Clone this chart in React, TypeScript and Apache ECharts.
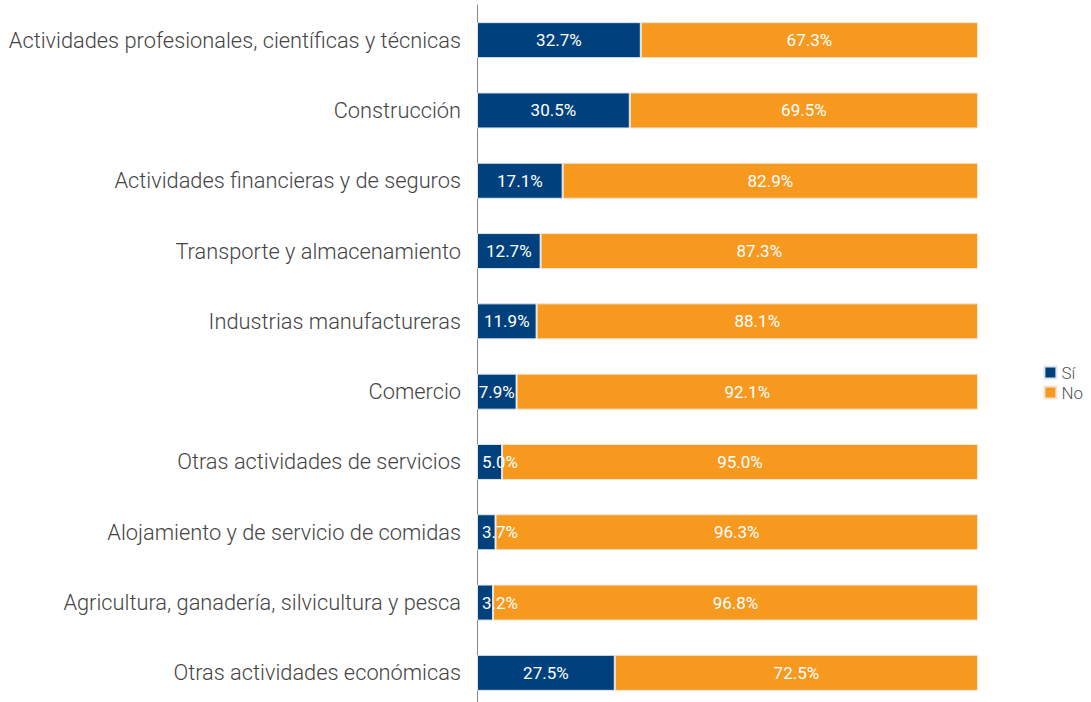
import React, { useEffect, useRef } from "react";
import * as echarts from "echarts";

const categories = [
  "Actividades profesionales, científicas y técnicas",
  "Construcción",
  "Actividades financieras y de seguros",
  "Transporte y almacenamiento",
  "Industrias manufactureras",
  "Comercio",
  "Otras actividades de servicios",
  "Alojamiento y de servicio de comidas",
  "Agricultura, ganadería, silvicultura y pesca",
  "Otras actividades económicas",
];
const siValues = [32.7, 30.5, 17.1, 12.7, 11.9, 7.9, 5.0, 3.7, 3.2, 27.5];
const noValues = [67.3, 69.5, 82.9, 87.3, 88.1, 92.1, 95.0, 96.3, 96.8, 72.5];
const seriesNames = ["Sí", "No"];

export default function App() {
  const ref = useRef<HTMLDivElement>(null);
  useEffect(() => {
    const chart = echarts.init(ref.current!, null, { renderer: "svg" });
    const font = "Roboto, 'Noto Sans', sans-serif";
    const labelBase = {
      show: true,
      color: "#ffffff",
      fontSize: 17,
      fontWeight: "normal",
      fontFamily: font,
      formatter: (p: any) => p.value.toFixed(1) + "%",
    };
    chart.setOption({
      animation: false,
      backgroundColor: "#ffffff",
      textStyle: { fontFamily: font },
      grid: {
        left: 477,
        width: 501,
        top: 5,
        height: 703,
        containLabel: false,
        outerBoundsMode: "none",
      },
      legend: {
        orient: "vertical",
        right: 8,
        top: 364,
        padding: 0,
        itemWidth: 12,
        itemHeight: 12,
        itemGap: 3,
        icon: "rect",
        textStyle: { color: "#555", fontSize: 17, fontFamily: font, fontWeight: 300 },
        data: seriesNames,
      },
      xAxis: { type: "value", min: 0, max: 100, show: false },
      yAxis: {
        type: "category",
        inverse: true,
        data: categories,
        axisLine: { show: true, lineStyle: { color: "#888", width: 1 } },
        axisTick: { show: false },
        axisLabel: {
          color: "#444",
          fontSize: 21.8,
          fontWeight: 300,
          fontFamily: font,
          margin: 16,
          padding: [0, 0, 4, 0],
        },
      },
      series: [
        {
          name: seriesNames[0],
          type: "bar",
          stack: "total",
          barWidth: 36,
          itemStyle: { color: "#00417d", borderColor: "#dfe4ea", borderWidth: 1 },
          label: { ...labelBase, position: "inside" },
          data: siValues.map((v) =>
            v < 7
              ? { value: v, label: { position: "insideLeft", distance: 5 } }
              : { value: v }
          ),
        },
        {
          name: seriesNames[1],
          type: "bar",
          stack: "total",
          barWidth: 36,
          itemStyle: { color: "#f7991f", borderColor: "#f2e6d6", borderWidth: 1 },
          label: { ...labelBase, position: "inside" },
          data: noValues,
        },
      ],
    });
    return () => chart.dispose();
  }, []);
  return (
    <div
      ref={ref}
      style={{ position: "absolute", left: 0, top: 0, width: 1091, height: 702 }}
    />
  );
}
